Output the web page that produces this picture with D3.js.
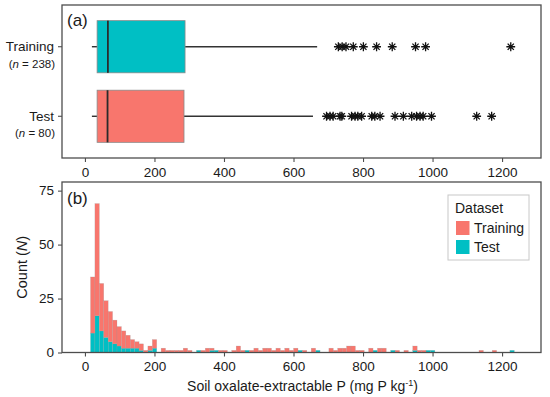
<!DOCTYPE html>
<html>
<head>
<meta charset="utf-8">
<script src="https://cdn.jsdelivr.net/npm/d3@7"></script>
<style>
  body { margin: 0; background: #fff; }
  svg text { font-family: "Liberation Sans", Arial, sans-serif; fill: #1a1a1a; }
</style>
</head>
<body>
<div id="my_dataviz"></div>
<script>
// ---- data ----
const groups = ["Training", "Test"];
const groupN = [238, 80];
const boxFill = ["#00BFC4", "#F8766D"];
const whiskerLow = [20, 20];
const q1 = [35, 35];
const median = [66, 65];
const q3 = [288, 285];
const whiskerHigh = [668, 656];
const outliersTraining = [729, 740, 751, 772, 801, 839, 884, 951, 980, 1225];
const outliersTest = [695, 705, 714, 734, 739, 767, 777, 785, 796, 825, 834, 849, 892, 916, 940, 954, 964, 973, 997, 1127, 1170];

const xTicks = [0, 200, 400, 600, 800, 1000, 1200];
const yTicks = [0, 25, 50, 75];

// histogram bins: left edge of first bin and bin width (mg P/kg)
const binStart = 16;
const binWidth = 12.7;
const countTraining = [26, 52, 22, 17, 14, 11, 9, 8, 6, 4, 3, 3, 1, 2, 4, 0, 2, 1, 1, 1,
  1, 2, 1, 0, 0, 1, 2, 1, 0, 1, 1, 0, 1, 3, 1, 0, 1, 2, 1, 2,
  2, 1, 2, 1, 2, 1, 2, 0, 1, 0, 2, 0, 0, 0, 2, 1, 2, 2, 3, 3,
  1, 1, 0, 2, 0, 2, 2, 0, 0, 1, 0, 1, 0, 2, 1, 1, 0, 0, 0, 0,
  0, 0, 0, 0, 0, 0, 0, 0, 1, 0, 0, 1, 0, 0, 0, 0];
const countTest = [9, 17, 10, 7, 5, 4, 3, 2, 2, 2, 2, 1, 0, 1, 2, 0, 0, 0, 0, 0,
  0, 0, 0, 0, 1, 0, 0, 1, 1, 0, 0, 0, 0, 0, 0, 1, 0, 0, 0, 0,
  0, 0, 0, 0, 0, 0, 0, 1, 0, 0, 0, 1, 0, 0, 0, 0, 0, 0, 0, 0,
  0, 0, 0, 0, 1, 0, 0, 0, 1, 0, 0, 0, 0, 1, 0, 0, 1, 1, 0, 0,
  0, 0, 0, 0, 0, 0, 0, 0, 0, 0, 0, 0, 0, 0, 0, 1];

// ---- layout ----
const W = 550, H = 397;
const panelA = {left: 62, right: 541, top: 5, bottom: 158};
const panelB = {left: 62, right: 541, top: 182, bottom: 352.5};
const axisCol = "#4d4d4d";

const svg = d3.select("#my_dataviz")
    .append("svg")
    .attr("width", W)
    .attr("height", H);

const x = d3.scaleLinear()
    .domain([-66, 1312])
    .range([panelA.left, panelA.right]);

// ================= panel (a): boxplots =================
const yBand = d3.scalePoint()
    .domain(groups)
    .range([panelA.top, panelA.bottom])
    .padding(0.6);
const boxH = yBand.step() * 0.75;

const gA = svg.append("g");

groups.forEach(function (g, i) {
    const cy = yBand(g);
    // whiskers
    gA.append("line")
        .attr("x1", x(whiskerLow[i])).attr("x2", x(q1[i]))
        .attr("y1", cy).attr("y2", cy)
        .attr("stroke", "#333").attr("stroke-width", 1.4);
    gA.append("line")
        .attr("x1", x(q3[i])).attr("x2", x(whiskerHigh[i]))
        .attr("y1", cy).attr("y2", cy)
        .attr("stroke", "#333").attr("stroke-width", 1.4);
    // box
    gA.append("rect")
        .attr("x", x(q1[i]))
        .attr("y", cy - boxH / 2)
        .attr("width", x(q3[i]) - x(q1[i]))
        .attr("height", boxH)
        .attr("fill", boxFill[i])
        .attr("stroke", "#8a8a8a")
        .attr("stroke-width", 0.8);
    // median
    gA.append("line")
        .attr("x1", x(median[i])).attr("x2", x(median[i]))
        .attr("y1", cy - boxH / 2).attr("y2", cy + boxH / 2)
        .attr("stroke", "#2b2b2b").attr("stroke-width", 1.8);
});

// asterisk like ggplot shape 8
function asterisk(r) {
    const d = r * Math.SQRT1_2;
    return `M${-r},0L${r},0M0,${-r}L0,${r}M${-d},${-d}L${d},${d}M${-d},${d}L${d},${-d}`;
}
[outliersTraining, outliersTest].forEach(function (arr, i) {
    gA.append("g")
        .selectAll("path")
        .data(arr)
        .join("path")
        .attr("transform", d => `translate(${x(d)},${yBand(groups[i])})`)
        .attr("d", asterisk(4.4))
        .attr("fill", "none")
        .attr("stroke", "#111")
        .attr("stroke-width", 1.3);
});

// panel border
gA.append("rect")
    .attr("x", panelA.left).attr("y", panelA.top)
    .attr("width", panelA.right - panelA.left)
    .attr("height", panelA.bottom - panelA.top)
    .attr("fill", "none").attr("stroke", axisCol).attr("stroke-width", 1.3);

// x axis (a)
const xAxisA = svg.append("g")
    .attr("transform", `translate(0,${panelA.bottom})`)
    .call(d3.axisBottom(x).tickValues(xTicks).tickFormat(d3.format("d")).tickSize(4).tickPadding(5));
xAxisA.select(".domain").remove();
xAxisA.selectAll("line").attr("stroke", axisCol).attr("stroke-width", 1.1);
xAxisA.selectAll("text").style("font-size", "13.5px").attr("fill", "#1a1a1a");

// y labels (a)
groups.forEach(function (g, i) {
    const cy = yBand(g);
    svg.append("line")
        .attr("x1", panelA.left - 4).attr("x2", panelA.left)
        .attr("y1", cy).attr("y2", cy)
        .attr("stroke", axisCol).attr("stroke-width", 1.1);
    svg.append("text")
        .attr("x", panelA.left - 8).attr("y", cy + 4.5)
        .attr("text-anchor", "end")
        .style("font-size", "13.5px")
        .text(g);
    const t = svg.append("text")
        .attr("x", panelA.left - 7).attr("y", cy + 21)
        .attr("text-anchor", "end")
        .style("font-size", "11.5px");
    t.append("tspan").text("(");
    t.append("tspan").style("font-style", "italic").text("n");
    t.append("tspan").text(" = " + groupN[i] + ")");
});

svg.append("text")
    .attr("x", 67).attr("y", 26)
    .style("font-size", "17px")
    .text("(a)");

// ================= panel (b): stacked histogram =================
const yH = d3.scaleLinear()
    .domain([0, 79])
    .range([panelB.bottom, panelB.top]);

const bins = countTraining.map(function (c, i) {
    return {x0: binStart + i * binWidth, x1: binStart + (i + 1) * binWidth, Training: c, Test: countTest[i]};
});
const stack = d3.stack().keys(["Test", "Training"]);
const series = stack(bins);
const histCol = {Training: "#F8766D", Test: "#00BFC4"};

const gB = svg.append("g");
gB.selectAll("g.layer")
    .data(series)
    .join("g")
    .attr("class", "layer")
    .attr("fill", d => histCol[d.key])
    .selectAll("rect")
    .data(d => d.filter(s => s[1] > s[0]))
    .join("rect")
    .attr("x", d => x(d.data.x0))
    .attr("width", d => x(d.data.x1) - x(d.data.x0))
    .attr("y", d => yH(d[1]))
    .attr("height", d => yH(d[0]) - yH(d[1]))
    .attr("stroke", "#9a9a9a")
    .attr("stroke-opacity", 0.55)
    .attr("stroke-width", 0.4);

gB.append("rect")
    .attr("x", panelB.left).attr("y", panelB.top)
    .attr("width", panelB.right - panelB.left)
    .attr("height", panelB.bottom - panelB.top)
    .attr("fill", "none").attr("stroke", axisCol).attr("stroke-width", 1.3);

const xAxisB = svg.append("g")
    .attr("transform", `translate(0,${panelB.bottom})`)
    .call(d3.axisBottom(x).tickValues(xTicks).tickFormat(d3.format("d")).tickSize(4).tickPadding(5));
xAxisB.select(".domain").remove();
xAxisB.selectAll("line").attr("stroke", axisCol).attr("stroke-width", 1.1);
xAxisB.selectAll("text").style("font-size", "13.5px").attr("fill", "#1a1a1a");

const yAxisB = svg.append("g")
    .attr("transform", `translate(${panelB.left},0)`)
    .call(d3.axisLeft(yH).tickValues(yTicks).tickSize(4).tickPadding(4));
yAxisB.select(".domain").remove();
yAxisB.selectAll("line").attr("stroke", axisCol).attr("stroke-width", 1.1);
yAxisB.selectAll("text").style("font-size", "13.5px").attr("fill", "#1a1a1a");

svg.append("text")
    .attr("x", 67).attr("y", 204)
    .style("font-size", "17px")
    .text("(b)");

// axis titles
const yt = svg.append("text")
    .attr("transform", `translate(27,${(panelB.top + panelB.bottom) / 2}) rotate(-90)`)
    .attr("text-anchor", "middle")
    .style("font-size", "14.5px");
yt.append("tspan").text("Count (");
yt.append("tspan").style("font-style", "italic").text("N");
yt.append("tspan").text(")");

const xt = svg.append("text")
    .attr("x", (panelB.left + panelB.right) / 2 + 1)
    .attr("y", 391)
    .attr("text-anchor", "middle")
    .style("font-size", "14px");
xt.append("tspan").text("Soil oxalate-extractable P (mg P kg");
xt.append("tspan").attr("dy", -5).style("font-size", "9px").text("-1");
xt.append("tspan").attr("dy", 5).text(")");

// legend
const leg = svg.append("g").attr("transform", "translate(448,195)");
leg.append("rect")
    .attr("width", 81).attr("height", 65)
    .attr("fill", "#fff").attr("stroke", "#c8c8c8").attr("stroke-width", 1);
leg.append("text")
    .attr("x", 7).attr("y", 18)
    .style("font-size", "14px")
    .text("Dataset");
["Training", "Test"].forEach(function (k, i) {
    leg.append("rect")
        .attr("x", 8).attr("y", 26 + i * 19)
        .attr("width", 13.5).attr("height", 14)
        .attr("fill", histCol[k]);
    leg.append("text")
        .attr("x", 26).attr("y", 38 + i * 19)
        .style("font-size", "14px")
        .text(k);
});
</script>
</body>
</html>
